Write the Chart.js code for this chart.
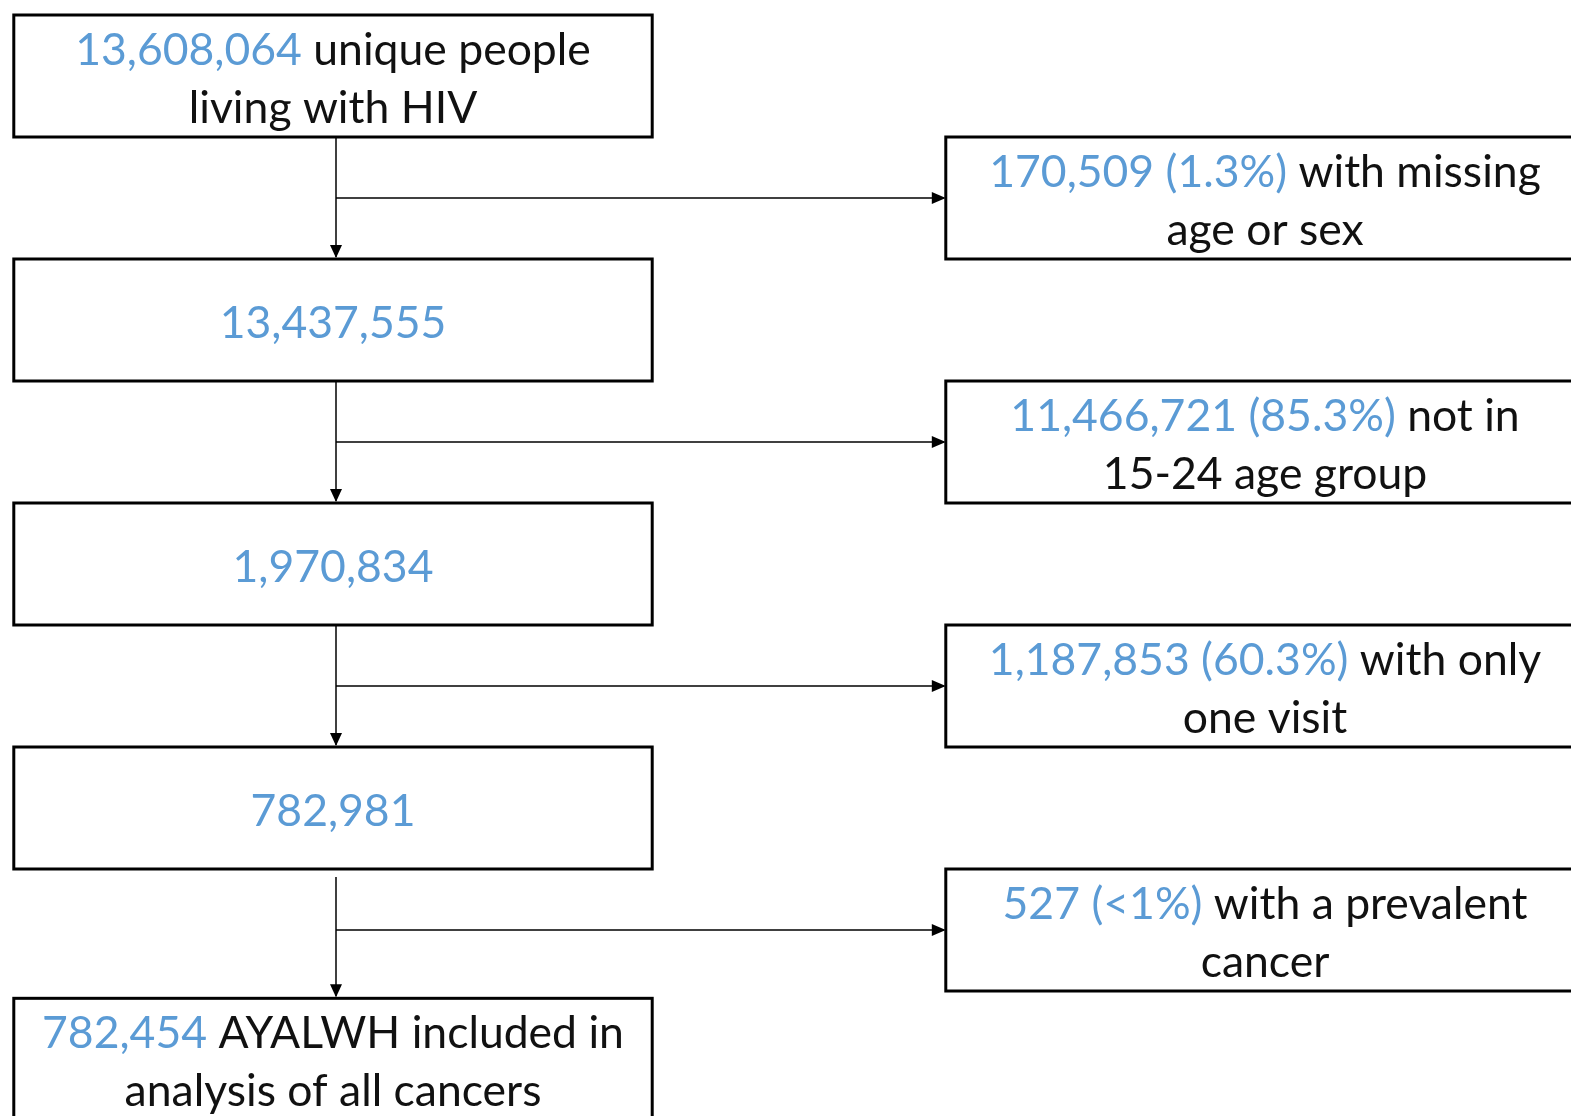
<!DOCTYPE html>
<html>
<head>
<meta charset="utf-8">
<script src="https://cdn.jsdelivr.net/npm/chart.js@4.4.1/dist/chart.umd.min.js"></script>
<style>
  body { margin: 0; background: #fff; }
  #wrap { width: 1571px; height: 1116px; }
</style>
</head>
<body>
<div id="wrap"><canvas id="flow"></canvas></div>
<script>
// steps kept in the cohort
const stepCounts = [13608064, 13437555, 1970834, 782981, 782454];
const stepText = [
    ['unique people', 'living with HIV'],
    [],
    [],
    [],
    ['AYALWH included in', 'analysis of all cancers']
];

// people excluded between steps
const excludedCounts = [170509, 11466721, 1187853, 527];
const excludedPct = ['(1.3%)', '(85.3%)', '(60.3%)', '(<1%)'];
const excludedText = [
    ['with missing', 'age or sex'],
    ['not in', '15-24 age group'],
    ['with only', 'one visit'],
    ['with a prevalent', 'cancer']
];

const BLUE = '#5B9BD5';
const INK = '#111';
const FONT = 'Lato';
const fontSize = 44.5;
const boxHalfW = 0.3425; // in column units
const boxHalfH = 0.5;    // in row units
const lastRowShift = 0.06; // last box sits a little lower

const fmt = n => n.toLocaleString('en-US');

// build box lines: each line is a list of [text, colour] parts
function stepLines(i) {
    const t = stepText[i];
    if (!t.length) return [[[fmt(stepCounts[i]), BLUE]]];
    return [[[fmt(stepCounts[i]) + ' ', BLUE], [t[0], INK]], [[t[1], INK]]];
}
function excludedLines(i) {
    const t = excludedText[i];
    return [
        [[fmt(excludedCounts[i]) + ' ' + excludedPct[i] + ' ', BLUE], [t[0], INK]],
        [[t[1], INK]]
    ];
}

function drawBox(ctx, cx, cy, hw, hh, lines) {
    ctx.save();
    ctx.lineWidth = 3;
    ctx.strokeStyle = '#000';
    ctx.fillStyle = '#fff';
    ctx.fillRect(cx - hw, cy - hh, hw * 2, hh * 2);
    ctx.strokeRect(cx - hw, cy - hh, hw * 2, hh * 2);
    ctx.font = fontSize + 'px ' + FONT;
    ctx.textBaseline = 'alphabetic';
    ctx.textAlign = 'left';
    const gap = 58;
    const y0 = cy + 18 - (lines.length - 1) * gap / 2;
    lines.forEach((parts, li) => {
        const w = parts.reduce((s, p) => s + ctx.measureText(p[0]).width, 0);
        let x = cx - w / 2;
        parts.forEach(p => {
            ctx.fillStyle = p[1];
            ctx.fillText(p[0], x, y0 + li * gap);
            x += ctx.measureText(p[0]).width;
        });
    });
    ctx.restore();
}

function arrowHead(ctx, x, y, dir) {
    ctx.beginPath();
    if (dir === 'down') {
        ctx.moveTo(x, y); ctx.lineTo(x - 6, y - 13); ctx.lineTo(x + 6, y - 13);
    } else {
        ctx.moveTo(x, y); ctx.lineTo(x - 14, y - 6); ctx.lineTo(x - 14, y + 6);
    }
    ctx.closePath();
    ctx.fill();
}

const flowPlugin = {
    id: 'flow',
    afterDatasetsDraw(chart) {
        const ctx = chart.ctx;
        const xs = chart.scales.x, ys = chart.scales.y;
        const hw = xs.getPixelForValue(boxHalfW) - xs.getPixelForValue(0);
        const hh = ys.getPixelForValue(boxHalfH) - ys.getPixelForValue(0);
        const steps = chart.getDatasetMeta(0).data;
        const excl = chart.getDatasetMeta(1).data;

        ctx.save();
        ctx.strokeStyle = '#000';
        ctx.fillStyle = '#000';
        ctx.lineWidth = 1.5;
        // connectors
        for (let i = 0; i < steps.length - 1; i++) {
            const a = steps[i], b = steps[i + 1];
            const lx = a.x + 3;
            const start = i === steps.length - 2 ? a.y + hh + 8 : a.y + hh;
            ctx.beginPath();
            ctx.moveTo(lx, start);
            ctx.lineTo(lx, b.y - hh - 2);
            ctx.stroke();
            arrowHead(ctx, lx, b.y - hh - 1, 'down');
            const e = excl[i];
            ctx.beginPath();
            ctx.moveTo(lx, e.y);
            ctx.lineTo(e.x - hw - 2, e.y);
            ctx.stroke();
            arrowHead(ctx, e.x - hw, e.y, 'right');
        }
        ctx.restore();

        steps.forEach((p, i) => drawBox(ctx, p.x, p.y, hw, hh, stepLines(i)));
        excl.forEach((p, i) => drawBox(ctx, p.x, p.y, hw, hh, excludedLines(i)));
    }
};

new Chart(document.getElementById('flow'), {
    type: 'scatter',
    data: {
        datasets: [
            {
                label: 'steps',
                data: stepCounts.map((v, i) => ({ x: 0, y: i * 2 + (i === stepCounts.length - 1 ? lastRowShift : 0) })),
                pointRadius: 0
            },
            { label: 'excluded', data: excludedCounts.map((v, i) => ({ x: 1, y: i * 2 + 1 })), pointRadius: 0 }
        ]
    },
    options: {
        responsive: true,
        maintainAspectRatio: false,
        animation: false,
        layout: { padding: 0 },
        scales: {
            x: { display: false, min: -333 / 932, max: (1571 - 333) / 932 },
            y: { display: false, reverse: true, min: -76 / 122, max: (1116 - 76) / 122 }
        },
        plugins: {
            legend: { display: false },
            tooltip: { enabled: false }
        },
        events: []
    },
    plugins: [flowPlugin]
});
</script>
</body>
</html>
